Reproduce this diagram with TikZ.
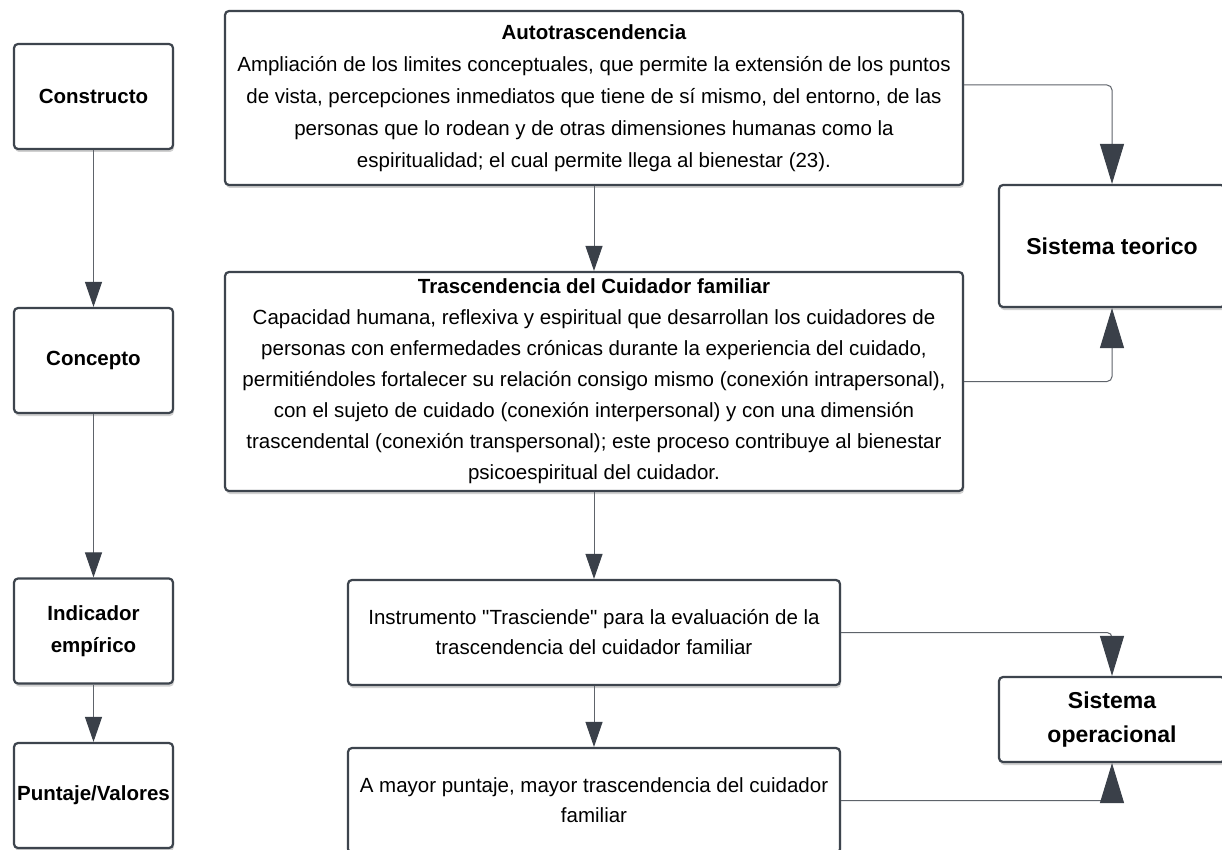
\documentclass[tikz,border=0pt]{standalone}
\usepackage{fontspec}
\setmainfont{Liberation Sans}
\usepackage{tikz}
\usetikzlibrary{arrows.meta,positioning,shadows}
\definecolor{boxline}{HTML}{3D444D}
\definecolor{linegray}{HTML}{5E636A}
\definecolor{tipdark}{HTML}{3A4049}
\tikzset{every node/.append style={transform shape=false}}
\tikzset{
  box/.style={draw=boxline, line width=2.2pt, rounded corners=4pt, fill=white,
    align=center, inner sep=0pt,
    drop shadow={shadow xshift=1pt, shadow yshift=-3pt, opacity=.18, fill=black},
    font=\fontsize{20.5}{31}\selectfont},
  stage/.style={box, minimum width=159pt, minimum height=105pt,
    font=\bfseries\fontsize{20.5}{32}\selectfont},
  sistema/.style={box, minimum width=226pt,
    font=\bfseries\fontsize{23}{34}\selectfont},
  link/.style={draw=linegray, line width=1pt,
    -{Triangle[length=25pt,width=17pt,color=tipdark,fill=tipdark]}},
  biglink/.style={link, rounded corners=5pt,
    -{Triangle[length=40pt,width=24pt,color=tipdark,fill=tipdark]}}
}

\begin{document}
\begin{tikzpicture}[x=1pt,y=-1pt]
  \path[fill=white] (0,0) rectangle (1222,850);
  \useasboundingbox (0,0) rectangle (1222,850);

  % left column
  \node[stage] (constructo) at (93.5,96.5) {Constructo};
  \node[stage] (concepto) at (93.5,360.5) {Concepto};
  \node[stage] (indicador) at (93.5,631) {Indicador\\empírico};
  \node[stage] (puntaje) at (93.5,795.5) {Puntaje/Valores};

  % middle column
  \node[box, minimum width=738pt, minimum height=174pt,
    font=\fontsize{20.5}{32}\selectfont] (auto) at (594,98)
    {\textbf{Autotrascendencia}\\
     Ampliación de los limites conceptuales, que permite la extensión de los puntos\\
     de vista, percepciones inmediatos que tiene de sí mismo, del entorno, de las\\
     personas que lo rodean y de otras dimensiones humanas como la\\
     espiritualidad; el cual permite llega al bienestar (23).};
  \node[box, minimum width=738pt, minimum height=219pt] (trasc) at (594,381.5)
    {\textbf{Trascendencia del Cuidador familiar}\\
     Capacidad humana, reflexiva y espiritual que desarrollan los cuidadores de\\
     personas con enfermedades crónicas durante la experiencia del cuidado,\\
     permitiéndoles fortalecer su relación consigo mismo (conexión intrapersonal),\\
     con el sujeto de cuidado (conexión interpersonal) y con una dimensión\\
     trascendental (conexión transpersonal); este proceso contribuye al bienestar\\
     psicoespiritual del cuidador.};
  \node[box, minimum width=492pt, minimum height=105pt,
    font=\fontsize{20.5}{30}\selectfont] (instr) at (594,632.5)
    {Instrumento \textquotedbl Trasciende\textquotedbl{} para la evaluación de la\\
     trascendencia del cuidador familiar};
  \node[box, minimum width=492pt, minimum height=105pt,
    font=\fontsize{20.5}{30}\selectfont] (mayor) at (594,800.5)
    {A mayor puntaje, mayor trascendencia del cuidador\\
     familiar};

  % right column
  \node[sistema, minimum height=122pt] (teorico) at (1112,246) {Sistema teorico};
  \node[sistema, minimum height=85pt] (operac) at (1112,719.5) {Sistema\\operacional};

  \draw[link] (constructo) -- (concepto);
  \draw[link] (concepto) -- (indicador);
  \draw[link] (indicador) -- (puntaje);
  \draw[link] (auto) -- (trasc);
  \draw[link] (trasc) -- (instr);
  \draw[link] (instr) -- (mayor);

  \draw[biglink] ([yshift=13pt]auto.east) -| (teorico.north);
  \draw[biglink] (trasc.east) -| (teorico.south);
  \draw[biglink] (instr.east) -| (operac.north);
  \draw[biglink] (mayor.east) -| (operac.south);
\end{tikzpicture}
\end{document}
